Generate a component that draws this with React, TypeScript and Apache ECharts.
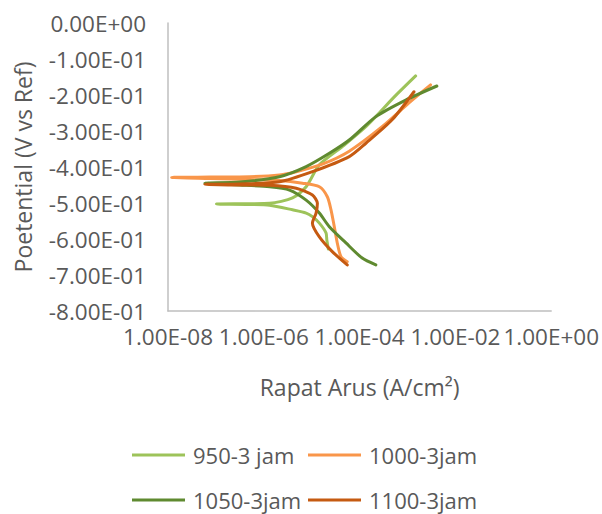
import React, { useEffect, useRef } from 'react';
import * as echarts from 'echarts';

const seriesNames = ['950-3 jam', '1000-3jam', '1050-3jam', '1100-3jam'];
const seriesColors = ['#9dc35a', '#f9964a', '#5f8a30', '#c55a11'];

// log10 of current density (A/cm²), cathodic end -> Ecorr -> anodic end
const logI950 = [-4.653, -4.684, -4.701, -4.84, -4.985, -5.116, -5.4, -5.879, -6.295, -6.988, -6.295, -5.879, -5.4, -5.116, -4.84, -4.32, -3.869, -3.661, -3.281, -2.83];
const E950 = [-0.628, -0.603, -0.583, -0.556, -0.538, -0.528, -0.519, -0.506, -0.504, -0.503, -0.502, -0.501, -0.486, -0.455, -0.394, -0.339, -0.288, -0.26, -0.206, -0.147];

const logI1000 = [-4.258, -4.389, -4.466, -4.528, -4.597, -4.674, -4.84, -5.193, -5.672, -6.295, -7.127, -7.923, -7.127, -6.295, -5.672, -5.324, -4.778, -4.216, -3.53, -2.969, -2.518];
const E1000 = [-0.663, -0.649, -0.611, -0.566, -0.519, -0.4825, -0.455, -0.445, -0.4375, -0.435, -0.432, -0.429, -0.428, -0.427, -0.422, -0.413, -0.392, -0.356, -0.288, -0.222, -0.172];

const logI1050 = [-3.661, -3.946, -4.285, -4.632, -4.84, -5.116, -5.464, -5.879, -6.503, -7.231, -6.503, -5.672, -5.116, -4.632, -4.216, -3.661, -3.037, -2.387];
const E1050 = [-0.672, -0.653, -0.611, -0.566, -0.528, -0.492, -0.464, -0.455, -0.45, -0.445, -0.4417, -0.427, -0.399, -0.362, -0.325, -0.26, -0.214, -0.175];

const logI1100 = [-4.258, -4.57, -4.84, -4.985, -4.909, -4.881, -4.985, -5.324, -5.879, -6.503, -7.231, -6.503, -5.672, -4.985, -4.216, -3.869, -3.322, -2.865];
const E1100 = [-0.672, -0.635, -0.594, -0.556, -0.528, -0.501, -0.478, -0.459, -0.451, -0.45, -0.448, -0.447, -0.441, -0.413, -0.371, -0.334, -0.269, -0.191];

const allLogI = [logI950, logI1000, logI1050, logI1100];
const allE = [E950, E1000, E1050, E1100];

const FONT = 'Open Sans';
const TEXT_COLOR = '#595959';
const AXIS_COLOR = '#bfbfbf';

function sci(v: number): string {
  const s = v.toExponential(2);
  const [m, e] = s.split('e');
  const ex = parseInt(e, 10);
  return m + 'E' + (ex < 0 ? '-' : '+') + String(Math.abs(ex)).padStart(2, '0');
}

const legendLeft = [132, 308];
const legendTop = [443, 488];

export default function App() {
  const ref = useRef<HTMLDivElement>(null);
  useEffect(() => {
    if (!ref.current) return;
    document.body.style.margin = '0';
    const chart = echarts.init(ref.current, undefined, { renderer: 'svg' });
    const series = seriesNames.map((name, i) => ({
      name,
      type: 'line',
      smooth: 0.25,
      showSymbol: false,
      symbol: 'none',
      lineStyle: { width: 3, color: seriesColors[i], cap: 'round', join: 'round' },
      itemStyle: { color: seriesColors[i] },
      data: allLogI[i].map((l, k) => [Math.pow(10, l), allE[i][k]]),
    }));
    const legends = seriesNames.map((name, i) => ({
      data: [name],
      left: legendLeft[i % 2],
      top: legendTop[Math.floor(i / 2)],
      padding: 0,
      icon: 'rect',
      itemWidth: 53,
      itemHeight: 3,
      textStyle: { fontFamily: FONT, fontSize: 22, color: TEXT_COLOR, padding: [0, 0, 0, 3], lineHeight: 24 },
    }));
    chart.setOption({
      animation: false,
      backgroundColor: '#ffffff',
      textStyle: { fontFamily: FONT },
      grid: { left: 168, top: 23, width: 385, height: 288, containLabel: false },
      legend: legends,
      xAxis: {
        type: 'log',
        logBase: 10,
        min: 1e-8,
        max: 1,
        name: 'Rapat Arus (A/cm²)',
        nameLocation: 'middle',
        nameGap: 64,
        nameTextStyle: { fontFamily: FONT, fontSize: 23, color: TEXT_COLOR },
        axisLine: { show: true, onZero: false, lineStyle: { color: AXIS_COLOR, width: 1.5 } },
        axisTick: { show: false },
        splitLine: { show: false },
        minorTick: { show: false },
        axisLabel: {
          margin: 14,
          fontFamily: FONT,
          fontSize: 22.5,
          color: TEXT_COLOR,
          showMinLabel: true,
          showMaxLabel: true,
          formatter: (v: number) => {
            const e = Math.round(Math.log10(v));
            if (e % 2 !== 0) return '';
            return sci(Math.pow(10, e));
          },
        },
      },
      yAxis: {
        type: 'value',
        min: -0.8,
        max: 0,
        interval: 0.1,
        name: 'Poetential (V vs Ref)',
        nameLocation: 'middle',
        nameGap: 134,
        nameTextStyle: { fontFamily: FONT, fontSize: 23, color: TEXT_COLOR },
        axisLine: { show: true, onZero: false, lineStyle: { color: AXIS_COLOR, width: 1.5 } },
        axisTick: { show: false },
        splitLine: { show: false },
        axisLabel: {
          margin: 22,
          fontFamily: FONT,
          fontSize: 22.5,
          color: TEXT_COLOR,
          formatter: (v: number) => sci(Math.round(v * 10) / 10),
        },
      },
      series,
    });
    return () => chart.dispose();
  }, []);
  return <div ref={ref} style={{ width: 602, height: 514 }} />;
}
